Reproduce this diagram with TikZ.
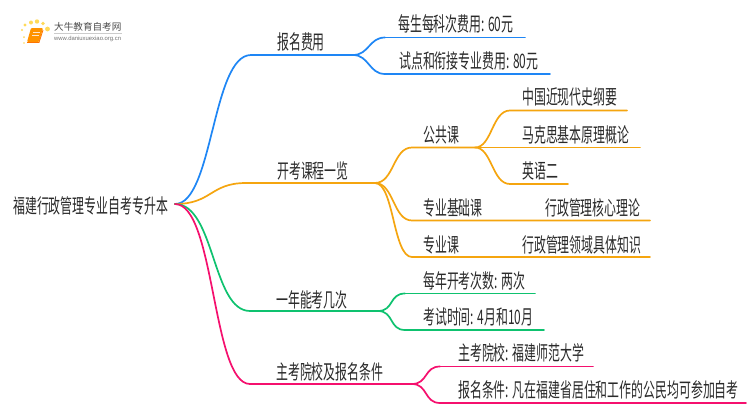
\documentclass[tikz,border=0pt]{standalone}
\usepackage{fontspec}
\newfontfamily\cjk[FakeStretch=0.595]{Noto Sans CJK SC}
\newfontfamily\cjklogo{Noto Sans CJK SC}
\setsansfont{Liberation Sans}
\usetikzlibrary{calc}
\definecolor{cblue}{HTML}{1E86F5}
\definecolor{corange}{HTML}{F5A50F}
\definecolor{cgreen}{HTML}{0EC26F}
\definecolor{cpink}{HTML}{F5106E}
\definecolor{ctext}{HTML}{2A2A2A}
\tikzset{
  x=1pt,y=-1pt,
  lab/.style={font=\cjk\fontsize{20}{20}\selectfont,text=ctext,inner sep=0pt,anchor=base west},
  conn/.style={line width=1.7pt,line cap=round},
  pt/.style={inner sep=0pt,minimum size=0pt},
}
\newcommand{\branch}[3]{\draw[conn,#1] (#2) .. controls ($(#2)+(16,0)$) and ($(#3)+(-16,0)$) .. (#3);}
\begin{document}
\begin{tikzpicture}
\useasboundingbox (0,0) rectangle (750,410);
\fill[white] (0,0) rectangle (750,410);
% logo
\foreach \a/\b/\r in {24/37/1,22/30/1.2,25/25/1.7,31/22.5/2,37/21.5/2.2,43/23.5/1.9,47.5/29/2.4,24/43/.8}{\fill[orange!45!yellow!65] (\a,\b) circle (\r);}
\fill[rounded corners=1pt,orange!85!yellow] (31,28) -- (43,28) -- (39,42) -- (27,42) -- cycle;
\draw[orange!90!red,line width=.8pt] (27,42.5) -- (39,42.5) -- (43,30);
\draw[white!80!orange,line width=.5pt] (33,32) -- (40,32) (32,35) -- (39,35);
\node[pt,anchor=west,text=black!70,font=\cjklogo\fontsize{9.6}{10}\selectfont] (logoa) at (54,27) {大牛教育自考网};
\draw[black!20,line width=.5pt] (54,33.5) -- (122,33.5);
\node[pt,anchor=west,text=black!55,font=\sffamily\fontsize{5.9}{6}\selectfont] (logob) at (54,39) {www.daniuxuexiao.org.cn};
% text
\node[lab] (root) at (13,213.5) {福建行政管理专业自考专升本};
\node[lab] (a1) at (277,49.5) {报名费用};
\node[lab] (a2) at (277,178.5) {开考课程一览};
\node[lab] (a3) at (276,307.5) {一年能考几次};
\node[lab] (a4) at (276,379.5) {主考院校及报名条件};
\node[lab] (b1) at (398,31.5) {每生每科次费用: 60元};
\node[lab] (b2) at (399,68.5) {试点和衔接专业费用: 80元};
\node[lab] (c1) at (423,142.5) {公共课};
\node[lab] (c2) at (423,215.5) {专业基础课};
\node[lab] (c3) at (423,252) {专业课};
\node[lab] (d1) at (522,104.5) {中国近现代史纲要};
\node[lab] (d2) at (522,142.5) {马克思基本原理概论};
\node[lab] (d3) at (522,178) {英语二};
\node[lab] (d4) at (545,215.5) {行政管理核心理论};
\node[lab] (d5) at (522,252) {行政管理领域具体知识};
\node[lab] (e1) at (423,288.5) {每年开考次数: 两次};
\node[lab] (e2) at (423,324.5) {考试时间: 4月和10月};
\node[lab] (f1) at (458,360.5) {主考院校: 福建师范大学};
\node[lab] (f2) at (458,397.5) {报名条件: 凡在福建省居住和工作的公民均可参加自考};
% connector points
\coordinate (R) at (175,204);
\coordinate (A1s) at (251,55);   \coordinate (A1e) at (353,55);
\coordinate (A2s) at (246,183);  \coordinate (A2e) at (375,183);
\coordinate (A3s) at (250,311);  \coordinate (A3e) at (378,311);
\coordinate (A4s) at (250,384);  \coordinate (A4e) at (412,384);
\coordinate (B1s) at (385,37.5); \coordinate (B1e) at (525,37.5);
\coordinate (B2s) at (385,74);   \coordinate (B2e) at (550,74);
\coordinate (C1s) at (412,147.5);\coordinate (C1e) at (475,147.5);
\coordinate (C2s) at (412,220.5);\coordinate (C2e) at (650,220.5);
\coordinate (C3s) at (412,257);  \coordinate (C3e) at (650,257);
\coordinate (D1s) at (510,110.5);\coordinate (D1e) at (627,110.5);
\coordinate (D2e) at (640,147.5);
\coordinate (D3s) at (510,184);  \coordinate (D3e) at (568,184);
\coordinate (E1s) at (405,293.5);\coordinate (E1e) at (535,293.5);
\coordinate (E2s) at (405,330);  \coordinate (E2e) at (544,330);
\coordinate (F1s) at (440,366.5);\coordinate (F1e) at (593,366.5);
\coordinate (F2s) at (440,403);  \coordinate (F2e) at (746,403);
% blue
\draw[conn,cblue] (R) .. controls (213,204) and (212,55) .. (A1s) -- (A1e);
\branch{cblue}{A1e}{B1s}\draw[conn,cblue] (B1s) -- (B1e);
\branch{cblue}{A1e}{B2s}\draw[conn,cblue] (B2s) -- (B2e);
% orange root branch first, so the others lie over it at the root
\draw[conn,corange] (R) .. controls (212,204) and (210,183) .. (A2s) -- (A2e);
% green, pink
\draw[conn,cgreen] (R) .. controls (215,204) and (212,311) .. (A3s) -- (A3e);
\branch{cgreen}{A3e}{E1s}\draw[conn,cgreen] (E1s) -- (E1e);
\branch{cgreen}{A3e}{E2s}\draw[conn,cgreen] (E2s) -- (E2e);
\draw[conn,cpink] (R) .. controls (215,204) and (212,384) .. (A4s) -- (A4e);
\branch{cpink}{A4e}{F1s}\draw[conn,cpink] (F1s) -- (F1e);
\branch{cpink}{A4e}{F2s}\draw[conn,cpink] (F2s) -- (F2e);
% orange forks
\draw[conn,corange] (A2e) .. controls (394,183) and (393,147.5) .. (C1s) -- (C1e);
\draw[conn,corange] (A2e) .. controls (394,183) and (393,220.5) .. (C2s) -- (C2e);
\draw[conn,corange] (A2e) .. controls (394,183) and (393,257) .. (C3s) -- (C3e);
\draw[conn,corange] (C1e) .. controls (492,147.5) and (492,110.5) .. (D1s) -- (D1e);
\draw[conn,corange] (C1e) -- (D2e);
\draw[conn,corange] (C1e) .. controls (492,147.5) and (492,184) .. (D3s) -- (D3e);
\end{tikzpicture}
\end{document}
